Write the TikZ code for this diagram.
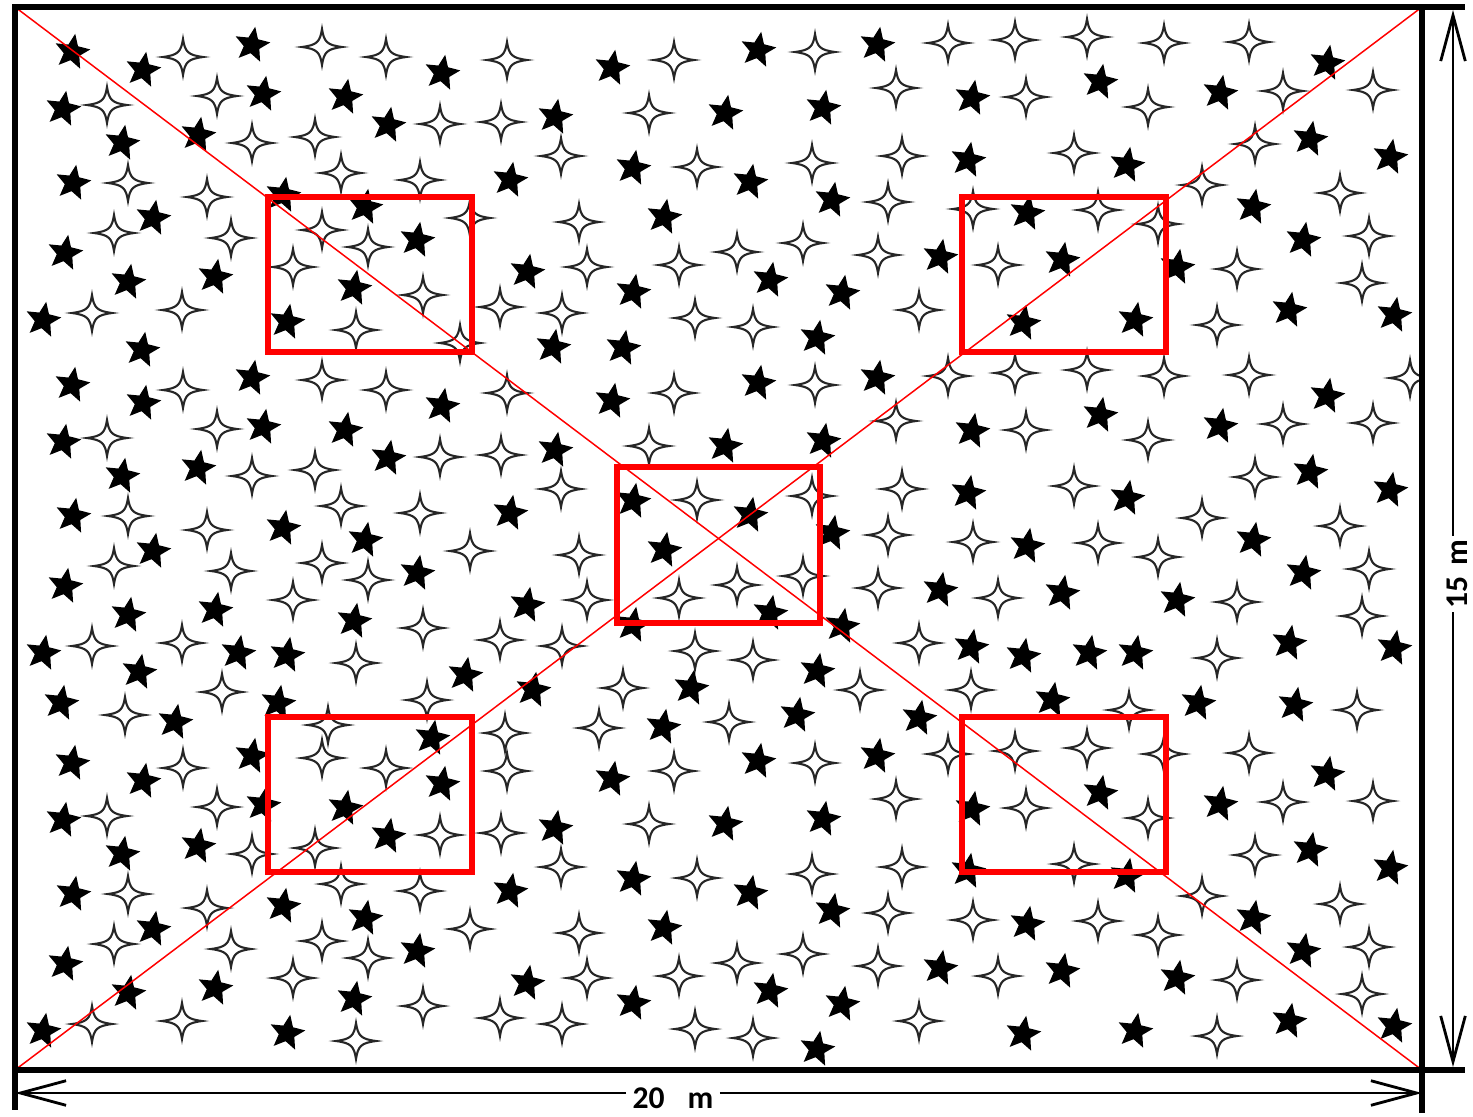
\documentclass[tikz,border=0pt]{standalone}
\usepackage{fontspec}
\newfontfamily\dimfont{Carlito}
\usetikzlibrary{arrows.meta}

\tikzset{
	starblk/.pic={\fill[black] (-80:18.5) -- (-44:8.3) -- (-8:18.5) -- (28:8.3) -- (64:18.5) -- (100:8.3) -- (136:18.5) -- (172:8.3) -- (208:18.5) -- (244:8.3) -- cycle;},
	starwht/.pic={\filldraw[fill=white,draw=black!85,line width=1.2pt] (20,0) .. controls (5,2) and (2,5) .. (0,18) .. controls (-2,5) and (-5,2) .. (-20,0) .. controls (-5,-2) and (-2,-5) .. (0,-18) .. controls (2,-5) and (5,-2) .. cycle;},
	frameline/.style={line width=3.4pt},
	dimline/.style={line width=1.6pt},
	dimtip/.style={-{Straight Barb[length=26pt,width=14pt]}},
	sample/.style={draw=red,line width=3.1pt},
	diag/.style={red,line width=0.85pt},
	dimlabel/.style={fill=white,inner xsep=3.5pt,inner ysep=1pt,font=\dimfont\bfseries\fontsize{18}{20}\selectfont}
}

\begin{document}
\begin{tikzpicture}[x=0.02cm,y=-0.02cm]
	\useasboundingbox (0,0) rectangle (1473,1116);
	
	\coordinate (nw) at (15,7);
	\coordinate (ne) at (1422,7);
	\coordinate (sw) at (15,1070);
	\coordinate (se) at (1422,1070);
	
	% trees, one strip repeated three times
	\begin{scope}
		\clip (nw) rectangle (se);
		\foreach \dy in {0,333,711} {
			\foreach \x/\y in {72/52,143/70,252/45,63/109,263/94,345/97,122/143,198/135,388/125,73/183,283/195,153/218,365/207,65/253,128/282,215/277,354/288,43/320,287/322,
				442/73,612/68,555/117,725/113,633/168,510/180,750/182,664/217,417/240,527/272,633/292,
				758/50,877/45,823/108,972/98,968/160,832/200,1027/213,940/257,1062/260,770/280,842/293,1023/323,817/338,
				1327/63,1100/82,1220/93,1127/165,1310/139,1390/157,1253/207,1303/240,1177/267,1135/320,1289/310,1394/315}
				\pic at (\x,\y+\dy) {starblk};
			\foreach \x/\y in {183/57,322/47,107/105,217/96,252/143,315/137,341/173,128/183,207/197,114/233,231/238,322/230,368/247,293/267,92/313,182/310,356/330,
				386/57,507/60,674/60,440/124,501/122,649/113,561/156,697/167,420/180,470/218,579/222,587/267,679/265,737/252,423/295,500/307,562/313,695/318,753/327,
				815/52,948/43,1015/40,1087/37,896/88,1026/97,812/163,902/156,1074/153,888/202,973/209,1098/210,803/243,878/255,998/265,919/310,
				1164/43,1249/42,1148/107,1283/91,1373/90,1255/144,1202/185,1340/193,1158/224,1369/236,1237/269,1362/283,1217/325}
				\pic at (\x,\y+\dy) {starwht};
		}
		% trees between the strips
		\foreach \x/\y in {142/350,553/347,623/348,238/653,139/672,465/675,533/690,691/688,61/703,278/703,175/722,432/738,663/727,
			971/647,1089/653,1052/700,1198/703,1295/705,797/715,919/718}
			\pic at (\x,\y) {starblk};
		\foreach \x/\y in {460/343,1410/378,222/692,623/688,427/700,125/715,328/725,505/733,599/728,729/722,
			860/690,971/690,1129/710,1357/710}
			\pic at (\x,\y) {starwht};
	\end{scope}
	
	\draw[diag] (nw) -- (se);
	\draw[diag] (sw) -- (ne);
	
	\draw[sample] (268,197) rectangle (472,352);
	\draw[sample] (962,197) rectangle (1166,352);
	\draw[sample] (617,467) rectangle (820,623);
	\draw[sample] (268,717) rectangle (472,872);
	\draw[sample] (962,717) rectangle (1166,872);
	
	\draw[frameline] (nw) rectangle (se);
	\draw[frameline] (ne) -- ++(43,0);
	\draw[frameline] (se) -- ++(43,0);
	\draw[frameline] (sw) -- ++(0,40);
	\draw[frameline] (se) -- ++(0,43);
	
	% dimensions
	\coordinate (dimL) at (15,1093);
	\coordinate (dimR) at (1422,1093);
	\coordinate (dimT) at (1453,10);
	\coordinate (dimB) at (1453,1067);
	\node[dimlabel] (lenlabel) at (673,1098) {20\hspace{13pt}m};
	\node[dimlabel,rotate=90,inner xsep=2pt] (widlabel) at (1457,574) {15\hspace{6pt}m};
	\draw[dimline,dimtip] (lenlabel.west |- dimL) -- (dimL);
	\draw[dimline,dimtip] (lenlabel.east |- dimR) -- (dimR);
	\draw[dimline,dimtip] (dimT |- widlabel.east) -- (dimT);
	\draw[dimline,dimtip] (dimB |- widlabel.west) -- (dimB);
\end{tikzpicture}
\end{document}
